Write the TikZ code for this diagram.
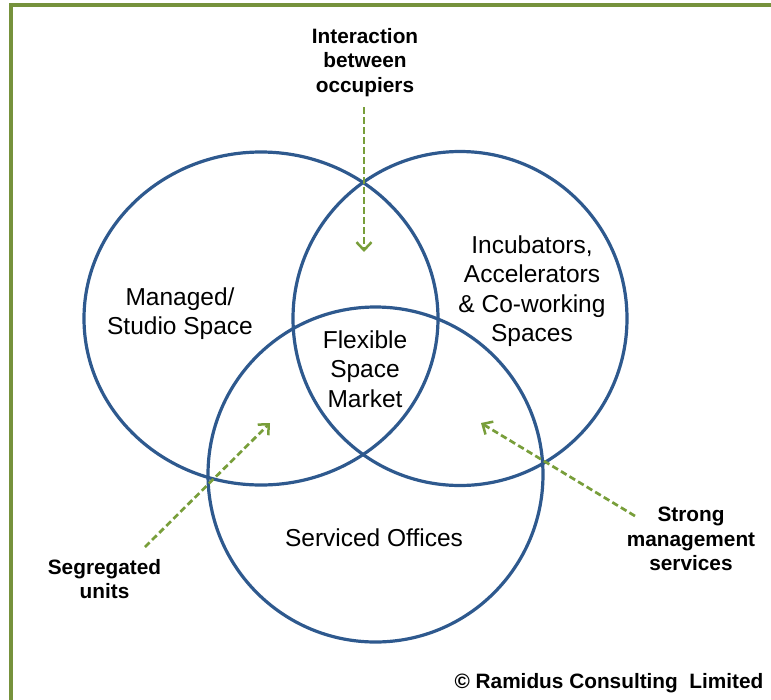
\documentclass[tikz,border=0pt]{standalone}
\usepackage{fontspec}
\setmainfont{Liberation Sans}
\usetikzlibrary{arrows.meta,shapes.geometric}
\definecolor{vennblue}{RGB}{46,89,142}
\definecolor{framegreen}{RGB}{118,146,60}
\definecolor{arrowgreen}{RGB}{120,158,58}
\tikzset{
  venn/.style={draw=vennblue, line width=3.2pt, inner sep=0pt},
  lbl/.style={font=\fontsize{24.5}{29.5}\selectfont, align=center, inner sep=0pt, text=black},
  blbl/.style={font=\bfseries\fontsize{20.8}{24.5}\selectfont, align=center, inner sep=0pt, text=black},
  pointer/.style={draw=arrowgreen, line width=2.7pt, dash pattern=on 6.5pt off 3.5pt,
    -{Straight Barb[length=8pt,width=15pt,line width=2.5pt]}},
}
\begin{document}
\begin{tikzpicture}[x=1pt,y=-1pt]
\useasboundingbox (0,0) rectangle (771,699);
\clip (0,0) rectangle (771,699);
% frame
\draw[framegreen, line width=4pt] (11,705) -- (11,5) -- (780,5);
% circles
\node[venn, ellipse, minimum width=354pt, minimum height=333pt] (managed) at (261,318.5) {};
\node[venn, circle, minimum size=334pt] (incub) at (460,318.5) {};
\node[venn, circle, minimum size=335pt] (serviced) at (375.5,474.5) {};
% circle labels
\node[lbl] (tmanaged) at (180,313.8) {Managed/\\Studio Space};
\node[lbl] (tflex) at (365,369) {Flexible\\Space\\Market};
\node[lbl] (tincub) at (532,291.2) {Incubators,\\Accelerators\\\&\ Co-working\\Spaces};
\node[lbl] (tserv) at (374,537.6) {Serviced Offices};
% outside labels
\node[blbl] (tinter) at (365,62.2) {Interaction\\between\\occupiers};
\node[blbl] (tseg) at (104.5,579) {Segregated\\units};
\node[blbl] (tstrong) at (691,539) {Strong\\management\\services};
\node[blbl, anchor=base] (tcopy) at (609,688) {\textcopyright\ Ramidus Consulting\ \ Limited};
% pointer ends
\coordinate (interA) at (364,107);
\coordinate (interB) at (364,252);
\coordinate (segA) at (145,547);
\coordinate (segB) at (270,423);
\coordinate (strA) at (635,516);
\coordinate (strB) at (481,423);
\draw[pointer] (interA) -- (interB);
\draw[pointer] (segA) -- (segB);
\draw[pointer] (strA) -- (strB);
\end{tikzpicture}
\end{document}
